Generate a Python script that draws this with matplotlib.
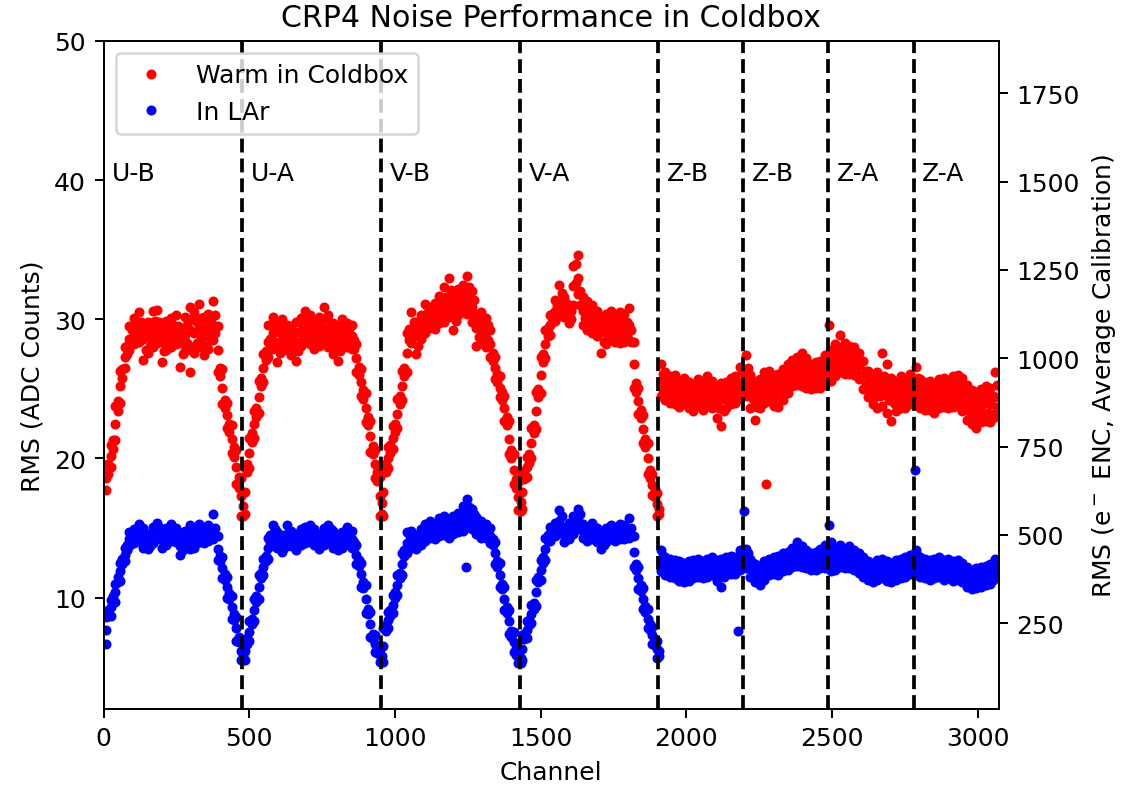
import numpy as np
import matplotlib
matplotlib.use('Agg')
import matplotlib.pyplot as plt


# Section boundaries (channel numbers) and their names
edges = [0, 476, 952, 1428, 1904, 2196, 2488, 2780, 3072]
section_names = ['U-B', 'U-A', 'V-B', 'V-A', 'Z-B', 'Z-B', 'Z-A', 'Z-A']

# Noise in 16-channel bins: top / middle / bottom of the band
# (one line per section: U-B, U-A, V-B, V-A, Z-B, Z-B, Z-A, Z-A)
warm_hi = [
    19.5, 21.0, 23.8, 26.3, 28.0, 29.5, 30.1, 30.5, 29.6, 29.8, 30.6, 30.7, 29.5, 29.9, 30.1, 30.3, 29.4, 30.2, 30.9, 30.5, 31.1, 30.2, 30.4, 31.3, 29.5, 26.4, 24.0, 22.4, 20.6, 18.6,
    19.3, 21.5, 23.4, 25.6, 27.5, 29.6, 30.2, 29.8, 30.0, 29.6, 29.5, 29.8, 30.1, 30.6, 30.3, 29.8, 30.2, 30.9, 30.3, 29.7, 29.5, 30.0, 29.7, 29.6, 28.2, 26.4, 24.7, 22.7, 20.6, 18.7,
    19.5, 20.8, 22.3, 24.3, 26.3, 29.0, 30.5, 29.8, 30.3, 31.1, 30.9, 31.2, 31.7, 32.3, 33.0, 31.8, 32.2, 32.5, 33.1, 32.0, 30.4, 30.5, 30.1, 29.2, 27.3, 25.9, 24.5, 22.7, 20.3, 18.3,
    19.0, 20.1, 22.2, 24.8, 27.3, 29.2, 30.3, 31.4, 32.5, 31.6, 31.0, 33.8, 34.6, 31.6, 31.3, 31.0, 30.6, 30.1, 30.4, 30.6, 30.2, 30.5, 30.4, 30.8, 28.4, 25.1, 23.1, 21.1, 18.9, 17.5,
    26.8, 26.2, 25.9, 26.0, 25.6, 25.8, 25.5, 25.3, 25.7, 25.4, 25.9, 25.6, 25.2, 25.4, 25.5, 25.8, 25.9, 26.6,
    27.4, 26.0, 25.6, 25.7, 26.2, 26.3, 26.0, 26.1, 26.4, 26.8, 27.1, 27.3, 27.6, 27.2, 26.8, 26.9, 27.0, 27.4,
    27.8, 28.2, 28.9, 28.3, 28.1, 28.0, 27.6, 27.0, 26.3, 26.0, 26.2, 27.6, 26.8, 25.8, 25.6, 25.9, 25.7, 26.1,
    26.6, 25.7, 25.5, 25.6, 25.4, 25.7, 25.8, 25.6, 25.9, 26.0, 25.8, 25.3, 24.9, 24.8, 25.0, 25.2, 25.1, 26.2,
]
warm_mid = [
    18.6, 20.2, 22.5, 25.2, 27.3, 28.6, 29.0, 29.3, 28.6, 28.7, 29.2, 29.4, 28.4, 28.7, 29.0, 29.1, 28.3, 28.9, 29.2, 29.0, 29.3, 28.8, 29.1, 29.6, 27.8, 25.1, 23.1, 21.4, 19.4, 17.3,
    17.6, 20.4, 22.5, 24.4, 26.5, 28.4, 29.0, 28.3, 28.9, 28.7, 28.5, 28.4, 29.0, 29.3, 29.1, 28.9, 29.0, 29.4, 29.1, 28.6, 28.3, 29.0, 28.9, 28.8, 27.2, 25.5, 23.6, 21.6, 19.6, 17.3,
    17.6, 20.0, 21.5, 23.2, 25.2, 27.6, 29.3, 28.8, 29.4, 30.0, 30.1, 30.2, 30.6, 31.0, 31.3, 30.6, 31.2, 31.5, 31.6, 30.9, 29.4, 29.3, 29.1, 28.2, 26.5, 25.1, 23.6, 21.4, 19.2, 17.2,
    17.6, 19.4, 21.1, 23.4, 26.0, 28.2, 29.6, 30.6, 31.3, 30.9, 30.3, 32.4, 33.0, 30.6, 30.3, 30.0, 29.7, 29.1, 29.3, 29.5, 29.3, 29.4, 29.3, 29.6, 26.8, 24.1, 22.1, 20.0, 18.1, 16.7,
    25.6, 25.2, 25.0, 25.0, 24.7, 24.9, 24.6, 24.4, 24.7, 24.5, 24.9, 24.6, 24.2, 24.3, 24.6, 24.9, 25.0, 25.4,
    25.8, 24.9, 24.4, 24.7, 25.1, 25.2, 24.9, 25.0, 25.2, 25.7, 26.1, 26.3, 26.4, 26.2, 25.9, 26.0, 26.1, 26.4,
    26.7, 27.0, 27.3, 27.2, 27.1, 27.0, 26.7, 26.0, 25.4, 25.0, 25.1, 25.3, 25.0, 24.8, 24.6, 24.8, 24.7, 25.0,
    25.2, 24.7, 24.5, 24.6, 24.4, 24.6, 24.7, 24.6, 24.8, 24.9, 24.6, 24.0, 23.7, 23.6, 23.8, 24.0, 23.9, 24.4,
]
warm_lo = [
    17.7, 19.4, 21.3, 24.0, 26.5, 27.8, 28.2, 28.4, 27.1, 27.6, 28.0, 28.3, 26.9, 27.8, 28.0, 28.2, 26.6, 27.7, 26.2, 27.6, 28.0, 27.4, 27.9, 28.5, 26.2, 23.9, 22.2, 20.4, 18.2, 15.9,
    16.0, 19.3, 21.5, 23.3, 25.5, 27.3, 27.9, 26.9, 28.0, 27.8, 27.4, 27.0, 28.1, 28.4, 28.2, 27.9, 28.1, 28.3, 28.0, 27.5, 27.0, 28.1, 28.0, 27.9, 26.2, 24.5, 22.6, 20.5, 18.6, 15.9,
    15.9, 19.3, 20.7, 22.2, 24.2, 26.2, 28.3, 27.5, 28.6, 29.0, 29.4, 29.3, 29.7, 29.8, 30.2, 29.2, 30.3, 30.5, 30.4, 29.8, 28.1, 28.3, 28.0, 27.3, 25.7, 24.4, 22.7, 20.3, 18.2, 16.3,
    16.4, 18.7, 20.0, 22.1, 24.7, 27.2, 28.9, 29.9, 30.4, 30.2, 29.7, 31.0, 31.8, 29.6, 29.2, 29.0, 28.8, 27.6, 28.2, 28.5, 28.4, 28.3, 28.4, 28.5, 25.1, 23.2, 21.1, 18.9, 17.4, 15.9,
    24.5, 24.2, 24.0, 23.9, 23.7, 23.9, 23.6, 23.4, 23.8, 23.5, 23.8, 23.6, 22.9, 22.3, 23.6, 23.9, 24.0, 24.3,
    24.5, 23.6, 22.8, 23.6, 24.0, 24.1, 23.8, 23.7, 24.2, 24.7, 25.2, 25.3, 25.2, 25.1, 25.0, 25.1, 25.1, 25.3,
    25.6, 25.9, 26.2, 26.1, 26.1, 26.0, 25.7, 25.0, 24.4, 23.9, 23.6, 23.8, 23.3, 22.7, 23.4, 23.6, 23.6, 23.9,
    24.0, 23.6, 23.5, 23.5, 23.3, 23.6, 23.7, 23.6, 23.7, 23.8, 23.4, 22.8, 22.5, 22.2, 22.6, 22.7, 22.6, 23.0,
]
# band read again half a bin further on: upper and lower part
warm_a = [
    19.6, 21.3, 24.1, 26.4, 28.1, 29.2, 29.6, 29.8, 29.1, 29.4, 29.9, 29.8, 29.1, 29.3, 29.6, 29.5, 28.9, 29.6, 30.0, 29.8, 30.1, 29.5, 29.8, 30.3, 26.5, 24.2, 22.5, 20.8, 18.7, 16.6,
    19.6, 21.8, 23.6, 25.8, 27.7, 29.6, 29.6, 29.1, 29.5, 29.2, 29.0, 29.1, 29.6, 30.0, 29.7, 29.4, 29.6, 30.1, 29.7, 29.2, 28.9, 29.5, 29.3, 28.5, 26.6, 24.9, 23.0, 20.9, 19.0, 16.8,
    19.6, 21.0, 22.5, 24.5, 26.5, 29.3, 29.8, 29.3, 29.9, 30.5, 30.5, 30.7, 31.1, 31.6, 32.1, 31.2, 31.7, 32.0, 32.3, 31.4, 29.9, 29.9, 29.6, 27.6, 26.1, 24.8, 23.0, 20.6, 18.5, 16.9,
    19.1, 20.3, 22.4, 25.0, 27.5, 29.4, 30.4, 31.0, 31.9, 31.2, 30.6, 34.0, 32.0, 31.1, 30.8, 30.5, 30.1, 29.6, 29.8, 30.0, 29.7, 29.9, 29.8, 29.2, 25.4, 23.5, 21.4, 19.2, 17.8, 16.4,
    26.1, 25.8, 25.5, 25.4, 25.2, 25.4, 25.0, 24.9, 25.2, 25.0, 25.4, 25.1, 24.7, 24.8, 25.1, 25.4, 25.5, 26.2,
    26.5, 25.5, 25.0, 25.2, 25.6, 25.8, 25.4, 25.6, 25.8, 26.3, 26.6, 26.8, 27.0, 26.7, 26.3, 26.5, 26.6, 26.9,
    27.3, 27.6, 28.0, 27.8, 27.6, 27.4, 27.0, 26.3, 25.8, 25.5, 25.6, 25.9, 25.5, 25.3, 25.1, 25.3, 25.2, 25.5,
    25.8, 25.2, 25.0, 25.1, 24.9, 25.1, 25.2, 25.1, 25.3, 25.4, 25.1, 24.6, 24.3, 24.2, 24.4, 24.6, 24.5, 25.3,
]
warm_b = [
    18.9, 20.7, 23.4, 25.8, 27.5, 28.3, 28.5, 28.7, 27.8, 28.1, 28.6, 28.8, 27.7, 28.2, 28.5, 28.6, 27.5, 28.3, 28.0, 28.3, 28.6, 28.1, 28.5, 29.0, 25.9, 23.6, 21.9, 20.1, 17.9, 15.9,
    19.0, 21.2, 23.0, 25.2, 27.1, 28.6, 28.4, 27.6, 28.4, 28.2, 27.9, 27.7, 28.5, 28.8, 28.6, 28.4, 28.5, 28.8, 28.5, 28.0, 27.7, 28.5, 28.5, 27.9, 26.0, 24.3, 22.4, 20.3, 18.4, 16.0,
    19.0, 20.4, 21.9, 23.9, 25.9, 28.5, 28.8, 28.1, 29.0, 29.5, 29.7, 29.7, 30.1, 30.4, 30.7, 29.9, 30.7, 31.0, 31.0, 30.3, 28.7, 28.8, 28.5, 27.0, 25.5, 24.2, 22.4, 20.0, 17.9, 16.2,
    18.5, 19.7, 21.8, 24.4, 26.9, 28.8, 29.8, 30.2, 30.8, 30.5, 30.0, 32.6, 31.0, 30.1, 29.8, 29.5, 29.2, 28.4, 28.7, 29.0, 28.8, 28.8, 28.8, 28.4, 24.8, 22.9, 20.8, 18.6, 17.2, 16.0,
    24.9, 24.7, 24.4, 24.5, 24.2, 24.3, 24.1, 23.9, 24.2, 24.0, 24.4, 24.1, 23.6, 23.4, 24.1, 24.4, 24.5, 24.9,
    25.2, 24.3, 23.7, 24.1, 24.6, 24.6, 24.4, 24.3, 24.7, 25.2, 25.6, 25.8, 25.8, 25.6, 25.4, 25.5, 25.6, 25.9,
    26.1, 26.5, 26.8, 26.6, 26.6, 26.5, 26.0, 25.3, 24.8, 24.4, 24.5, 24.6, 24.2, 24.0, 24.0, 24.2, 24.1, 24.5,
    24.6, 24.1, 24.0, 24.0, 23.8, 24.1, 24.2, 24.1, 24.3, 24.3, 24.0, 23.4, 23.1, 22.9, 23.2, 23.3, 23.2, 23.7,
]

lar_hi = [
    8.6, 9.8, 11.0, 12.5, 13.6, 14.7, 14.9, 15.3, 15.0, 14.6, 15.1, 15.4, 14.8, 15.0, 15.3, 15.0, 14.3, 14.8, 15.2, 15.0, 15.3, 15.1, 15.2, 16.0, 14.4, 12.9, 11.5, 10.1, 8.6, 7.0,
    7.0, 8.3, 9.9, 11.6, 12.8, 14.3, 15.2, 14.7, 14.5, 15.2, 14.8, 14.6, 14.9, 15.1, 15.2, 14.9, 14.6, 15.0, 15.2, 14.8, 14.4, 14.7, 15.1, 14.8, 13.8, 12.5, 10.9, 9.0, 7.3, 6.3,
    7.8, 9.0, 10.2, 11.6, 13.2, 14.7, 14.8, 14.5, 14.9, 15.3, 15.5, 15.3, 15.7, 15.9, 15.6, 15.9, 16.1, 16.6, 17.1, 16.4, 15.8, 15.5, 15.3, 15.0, 14.0, 12.5, 10.8, 9.1, 7.5, 6.4,
    7.3, 8.3, 9.5, 11.3, 12.7, 14.3, 15.1, 15.4, 16.3, 15.0, 15.4, 15.9, 16.4, 15.3, 15.1, 15.4, 15.0, 14.7, 15.0, 15.2, 15.1, 15.3, 15.2, 15.7, 14.4, 12.2, 10.7, 9.2, 7.9, 6.9,
    13.4, 12.9, 12.8, 12.7, 12.6, 12.5, 12.6, 12.7, 12.8, 12.6, 12.8, 12.9, 12.7, 12.8, 12.9, 13.0, 12.9, 13.4,
    13.5, 12.8, 12.4, 12.3, 12.6, 12.8, 12.9, 13.0, 13.2, 13.3, 13.6, 14.0, 13.7, 13.4, 13.2, 13.3, 13.5, 13.8,
    14.0, 13.6, 13.8, 13.5, 13.7, 13.4, 13.2, 12.9, 12.6, 12.5, 12.7, 12.8, 12.6, 12.5, 12.7, 12.8, 12.9, 13.1,
    13.4, 12.9, 12.8, 12.7, 12.8, 12.9, 12.7, 12.8, 12.6, 12.7, 12.5, 12.2, 12.0, 12.1, 12.2, 12.3, 12.4, 12.8,
]
lar_mid = [
    7.7, 9.3, 10.4, 11.9, 13.1, 14.2, 14.4, 14.7, 14.3, 14.0, 14.5, 14.8, 14.2, 14.4, 14.7, 14.5, 13.7, 14.2, 14.4, 14.2, 14.6, 14.5, 14.6, 14.8, 13.5, 12.1, 10.8, 9.3, 7.8, 6.2,
    6.2, 7.5, 9.1, 10.8, 12.2, 13.6, 14.6, 14.1, 13.9, 14.5, 14.2, 14.0, 14.3, 14.5, 14.6, 14.3, 14.0, 14.4, 14.6, 14.2, 13.9, 14.1, 14.5, 14.2, 13.1, 11.7, 9.9, 8.1, 6.7, 5.9,
    6.5, 8.4, 9.5, 10.9, 12.4, 13.9, 14.2, 14.0, 14.3, 14.7, 14.9, 14.8, 15.0, 15.2, 15.0, 15.3, 15.4, 15.6, 16.1, 15.6, 15.2, 14.9, 14.8, 14.4, 13.2, 11.6, 9.9, 8.3, 6.8, 5.8,
    6.3, 7.7, 8.8, 10.4, 12.0, 13.5, 14.6, 14.9, 15.5, 14.5, 14.8, 15.2, 15.6, 14.8, 14.6, 14.8, 14.5, 14.0, 14.5, 14.7, 14.6, 14.7, 14.7, 14.9, 13.3, 11.4, 9.9, 8.5, 7.3, 6.3,
    12.6, 12.2, 12.1, 12.0, 11.9, 11.8, 11.9, 12.0, 12.1, 12.0, 12.1, 12.2, 12.0, 12.0, 12.2, 12.3, 12.3, 12.7,
    12.8, 12.1, 11.8, 11.6, 11.9, 12.2, 12.3, 12.3, 12.5, 12.6, 12.9, 13.0, 12.9, 12.7, 12.6, 12.6, 12.8, 12.9,
    12.9, 12.8, 13.0, 12.8, 12.9, 12.7, 12.5, 12.2, 11.9, 11.8, 12.0, 12.1, 11.9, 11.8, 12.0, 12.1, 12.2, 12.4,
    12.6, 12.2, 12.1, 12.0, 12.1, 12.2, 12.0, 12.1, 11.9, 12.0, 11.8, 11.5, 11.3, 11.4, 11.5, 11.6, 11.7, 12.0,
]
lar_lo = [
    6.7, 8.7, 9.7, 11.2, 12.6, 13.7, 13.9, 14.1, 13.6, 13.5, 13.9, 14.2, 13.6, 13.8, 14.1, 14.0, 13.1, 13.6, 13.5, 13.6, 14.0, 13.9, 14.1, 14.2, 12.7, 11.4, 10.0, 8.5, 6.9, 5.5,
    5.5, 6.9, 8.3, 9.9, 11.6, 12.8, 14.0, 13.6, 13.3, 13.9, 13.7, 13.4, 13.8, 13.9, 14.0, 13.8, 13.5, 13.8, 14.0, 13.6, 13.4, 13.6, 13.9, 13.6, 12.4, 10.8, 8.9, 7.2, 6.1, 5.4,
    5.4, 7.8, 8.9, 10.2, 11.6, 13.2, 13.6, 13.5, 13.8, 14.1, 14.3, 14.2, 14.4, 14.5, 14.3, 14.6, 14.7, 14.8, 15.1, 14.9, 14.6, 14.3, 14.3, 13.9, 12.4, 10.8, 9.1, 7.4, 6.1, 5.3,
    5.5, 7.1, 8.2, 9.4, 11.3, 12.7, 14.1, 14.4, 14.8, 14.0, 14.2, 14.6, 14.9, 14.3, 14.1, 14.2, 14.0, 13.5, 14.0, 14.2, 14.1, 14.2, 14.2, 14.3, 12.2, 10.6, 9.2, 7.8, 6.7, 5.7,
    11.9, 11.6, 11.5, 11.4, 11.2, 11.1, 11.2, 11.4, 11.5, 11.4, 11.5, 11.6, 11.2, 10.8, 11.6, 11.7, 11.7, 12.0,
    12.1, 11.5, 11.1, 10.9, 11.3, 11.6, 11.7, 11.6, 11.9, 12.0, 12.2, 12.3, 12.2, 12.1, 12.0, 12.0, 12.1, 12.1,
    11.9, 12.0, 12.2, 12.1, 12.1, 12.0, 11.8, 11.5, 11.3, 11.1, 11.3, 11.4, 11.2, 11.1, 11.3, 11.4, 11.5, 11.7,
    11.9, 11.5, 11.4, 11.3, 11.4, 11.5, 11.3, 11.4, 11.2, 11.3, 11.1, 10.8, 10.6, 10.7, 10.8, 10.9, 11.0, 11.4,
]
lar_a = [
    9.1, 10.1, 11.5, 12.8, 13.8, 14.6, 14.7, 15.0, 14.6, 14.3, 14.8, 15.1, 14.5, 14.7, 15.0, 14.7, 14.0, 14.5, 14.8, 14.6, 15.0, 14.8, 14.9, 15.0, 13.0, 11.7, 10.3, 8.8, 7.2, 5.9,
    7.1, 8.5, 10.1, 11.8, 13.0, 14.5, 14.9, 14.4, 14.2, 14.8, 14.5, 14.3, 14.6, 14.8, 14.9, 14.6, 14.3, 14.7, 14.9, 14.5, 14.1, 14.4, 14.8, 14.0, 12.7, 11.1, 9.2, 7.4, 6.4, 5.8,
    8.0, 9.1, 10.4, 11.8, 13.4, 14.6, 14.5, 14.3, 14.6, 15.0, 15.2, 15.0, 15.4, 15.5, 15.3, 15.6, 15.7, 16.1, 16.5, 16.0, 15.5, 15.2, 15.0, 14.2, 12.6, 11.0, 9.3, 7.6, 6.3, 5.7,
    7.4, 8.4, 9.6, 11.5, 12.9, 14.5, 15.1, 15.2, 15.9, 14.8, 15.1, 15.5, 16.0, 15.0, 14.9, 15.1, 14.8, 14.4, 14.8, 15.0, 14.9, 15.0, 15.0, 15.0, 12.4, 10.9, 9.4, 8.1, 7.0, 6.2,
    13.0, 12.6, 12.5, 12.4, 12.3, 12.2, 12.3, 12.4, 12.5, 12.3, 12.5, 12.6, 12.4, 12.4, 12.6, 12.7, 12.6, 13.1,
    13.2, 12.5, 12.1, 12.0, 12.3, 12.5, 12.6, 12.7, 12.9, 13.0, 13.2, 13.5, 13.3, 13.1, 12.9, 13.0, 13.1, 13.3,
    13.5, 13.2, 13.4, 13.1, 13.3, 13.0, 12.8, 12.5, 12.2, 12.1, 12.3, 12.4, 12.2, 12.1, 12.3, 12.4, 12.5, 12.7,
    13.0, 12.5, 12.4, 12.3, 12.4, 12.5, 12.3, 12.4, 12.2, 12.3, 12.1, 11.8, 11.6, 11.7, 11.8, 11.9, 12.0, 12.4,
]
lar_b = [
    8.7, 9.7, 11.1, 12.4, 13.4, 14.1, 14.1, 14.4, 14.0, 13.7, 14.2, 14.5, 13.9, 14.1, 14.4, 14.2, 13.4, 13.9, 14.0, 13.9, 14.3, 14.2, 14.3, 14.5, 12.6, 11.3, 9.9, 8.4, 6.8, 5.5,
    6.7, 8.1, 9.7, 11.4, 12.6, 14.0, 14.3, 13.8, 13.6, 14.2, 13.9, 13.7, 14.0, 14.2, 14.3, 14.0, 13.7, 14.1, 14.3, 13.9, 13.6, 13.8, 14.2, 13.6, 12.3, 10.7, 8.8, 7.0, 6.0, 5.4,
    7.6, 8.7, 10.0, 11.4, 13.0, 14.0, 13.9, 13.7, 14.0, 14.4, 14.6, 14.5, 14.7, 14.9, 14.7, 15.0, 15.0, 15.2, 15.6, 15.2, 14.9, 14.6, 14.5, 13.8, 12.2, 10.6, 8.9, 7.2, 5.9, 5.3,
    7.0, 8.0, 9.2, 11.1, 12.5, 14.1, 14.7, 14.6, 15.1, 14.2, 14.5, 14.9, 15.2, 14.5, 14.3, 14.5, 14.2, 13.8, 14.2, 14.4, 14.3, 14.4, 14.4, 14.4, 12.0, 10.5, 9.0, 7.7, 6.6, 5.8,
    12.2, 11.9, 11.8, 11.7, 11.6, 11.5, 11.6, 11.7, 11.8, 11.7, 11.8, 11.9, 11.6, 11.5, 11.9, 12.0, 12.0, 12.4,
    12.4, 11.8, 11.4, 11.3, 11.6, 11.9, 12.0, 12.0, 12.2, 12.3, 12.5, 12.6, 12.5, 12.4, 12.3, 12.3, 12.4, 12.5,
    12.4, 12.4, 12.6, 12.4, 12.5, 12.3, 12.1, 11.8, 11.6, 11.4, 11.6, 11.7, 11.5, 11.4, 11.6, 11.7, 11.8, 12.0,
    12.2, 11.8, 11.7, 11.6, 11.7, 11.8, 11.6, 11.7, 11.5, 11.6, 11.4, 11.1, 10.9, 11.0, 11.1, 11.2, 11.3, 11.7,
]

# isolated channels away from the band
warm_out_ch = [2272, 2490]
warm_out_val = [18.2, 29.6]
lar_out_ch = [1245, 2178, 2199, 2489, 2786]
lar_out_val = [12.2, 7.6, 16.2, 15.2, 19.2]

# bin centres, 16 channels apart inside each section; the a/b readings sit 8 channels later
channels = np.concatenate([np.arange(a + 8, b, 16) for a, b in zip(edges[:-1], edges[1:])])
channels_half = channels + 8

fig, ax = plt.subplots(figsize=(1122 / 180, 786 / 180), dpi=180)
fig.subplots_adjust(left=0.0923, right=0.890, bottom=0.0967, top=0.9466)

ax.plot(channels, warm_hi, 'r.', label='Warm in Coldbox')
for trace in [warm_mid, warm_lo]:
    ax.plot(channels, trace, 'r.')
for trace in [warm_a, warm_b]:
    ax.plot(channels_half, trace, 'r.')
ax.plot(warm_out_ch, warm_out_val, 'r.')

ax.plot(channels, lar_hi, 'b.', label='In LAr')
for trace in [lar_mid, lar_lo]:
    ax.plot(channels, trace, 'b.')
for trace in [lar_a, lar_b]:
    ax.plot(channels_half, trace, 'b.')
ax.plot(lar_out_ch, lar_out_val, 'b.')

for e in edges[1:-1]:
    ax.axvline(e, color='k', linestyle='--')
for e, name in zip(edges[:-1], section_names):
    ax.text(e + 30, 40, name)

ax.set_xlim(0, 3072)
ax.set_ylim(2, 50)
ax.set_xlabel('Channel')
ax.set_ylabel('RMS (ADC Counts)')
ax.set_title('CRP4 Noise Performance in Coldbox')
ax.legend(loc='upper left')

ax2 = ax.twinx()
ax2.set_ylim(7, 1898)
ax2.set_ylabel('RMS (e$^-$ ENC, Average Calibration)')

fig.savefig('out.png', dpi=180)
